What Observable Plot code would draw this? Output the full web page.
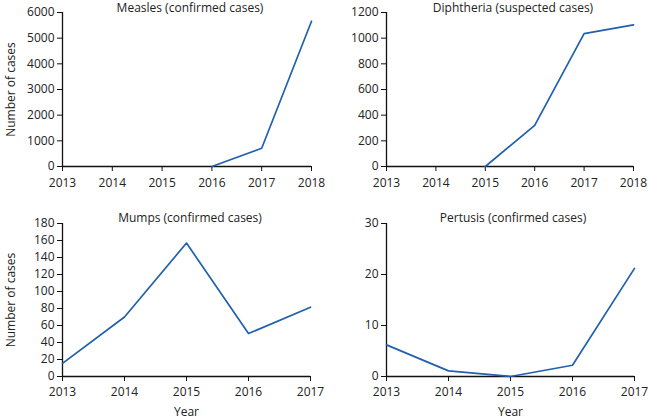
<!DOCTYPE html>
<html>
<head>
<meta charset="utf-8">
<script src="https://cdn.jsdelivr.net/npm/d3@7"></script>
<script src="https://cdn.jsdelivr.net/npm/@observablehq/plot@0.6"></script>
<style>
  html, body { margin: 0; padding: 0; background: #fff; }
  #root { position: relative; width: 648px; height: 419px; font-family: "Open Sans", sans-serif; color: #222; }
  #root svg { position: absolute; overflow: visible; }
  .ttl { position: absolute; transform: translate(-50%, -50%); font-size: 12px; white-space: nowrap; }
</style>
</head>
<body>
<div id="root"></div>
<script>
// ---- data ----
const measlesYears = [2016, 2017, 2018];
const measlesCases = [0, 710, 5660];
const diphtheriaYears = [2015, 2016, 2017, 2018];
const diphtheriaCases = [0, 320, 1036, 1104];
const mumpsYears = [2013, 2014, 2015, 2016, 2017];
const mumpsCases = [15.5, 70, 157, 50.5, 81.5];
const pertusisYears = [2013, 2014, 2015, 2016, 2017];
const pertusisCases = [6.2, 1.1, 0, 2.2, 21.2];

const topYears = [2013, 2014, 2015, 2016, 2017, 2018];
const bottomYears = [2013, 2014, 2015, 2016, 2017];
const measlesTicks = [0, 1000, 2000, 3000, 4000, 5000, 6000];
const diphtheriaTicks = [0, 200, 400, 600, 800, 1000, 1200];
const mumpsTicks = [0, 20, 40, 60, 80, 100, 120, 140, 160, 180];
const pertusisTicks = [0, 10, 20, 30];

const titles = ["Measles (confirmed cases)", "Diphtheria (suspected cases)", "Mumps (confirmed cases)", "Pertusis (confirmed cases)"];
const yLabel = "Number of cases";
const xLabel = "Year";

const BLUE = "#2160ae";
const root = document.getElementById("root");

function panel(o) {
  const rows = o.years.map((yr, i) => ({year: yr, cases: o.cases[i]}));
  const chart = Plot.plot({
    width: o.width, height: o.height,
    marginLeft: o.ml, marginRight: o.mr, marginTop: o.mt, marginBottom: o.mb,
    style: {fontFamily: "Open Sans, sans-serif", fontSize: "12px", color: "#222", background: "transparent", overflow: "visible"},
    x: {domain: [o.xTicks[0], o.xTicks[o.xTicks.length - 1]]},
    y: {domain: [0, o.yTicks[o.yTicks.length - 1]]},
    marks: [
      Plot.axisY({ticks: o.yTicks, tickSize: 5, tickPadding: 3, label: o.yLabel, labelAnchor: "center", labelArrow: "none", labelOffset: 56, stroke: "#111", tickFormat: d => String(d)}),
      Plot.axisX({ticks: o.xTicks, tickSize: 5, tickPadding: o.tp, tickFormat: "d", label: o.xLabel, labelAnchor: "center", labelArrow: "none", labelOffset: 39, stroke: "#111"}),
      Plot.ruleY([0], {stroke: "#111", strokeWidth: 1.3}),
      Plot.ruleX([o.xTicks[0]], {stroke: "#111", strokeWidth: 1.3}),
      Plot.line(rows, {x: "year", y: "cases", stroke: BLUE, strokeWidth: 1.7})
    ]
  });
  chart.style.left = o.left + "px";
  chart.style.top = o.top + "px";
  root.appendChild(chart);
  const t = document.createElement("div");
  t.className = "ttl";
  t.textContent = o.title;
  t.style.left = o.tx + "px";
  t.style.top = o.ty + "px";
  root.appendChild(t);
}

panel({left: 0, top: 0, width: 324, height: 200, ml: 62, mr: 13, mt: 12, mb: 34, tp: 7,
  years: measlesYears, cases: measlesCases, xTicks: topYears, yTicks: measlesTicks,
  yLabel: yLabel, xLabel: null, title: titles[0], tx: 190, ty: 7});
panel({left: 324, top: 0, width: 324, height: 200, ml: 62, mr: 15, mt: 12, mb: 34, tp: 7,
  years: diphtheriaYears, cases: diphtheriaCases, xTicks: topYears, yTicks: diphtheriaTicks,
  yLabel: null, xLabel: null, title: titles[1], tx: 513, ty: 7});
panel({left: 0, top: 199, width: 324, height: 219, ml: 62, mr: 14, mt: 24, mb: 42, tp: 6,
  years: mumpsYears, cases: mumpsCases, xTicks: bottomYears, yTicks: mumpsTicks,
  yLabel: yLabel, xLabel: xLabel, title: titles[2], tx: 190, ty: 217});
panel({left: 324, top: 199, width: 324, height: 219, ml: 62, mr: 14, mt: 24, mb: 42, tp: 6,
  years: pertusisYears, cases: pertusisCases, xTicks: bottomYears, yTicks: pertusisTicks,
  yLabel: null, xLabel: xLabel, title: titles[3], tx: 513, ty: 217});
</script>
</body>
</html>
